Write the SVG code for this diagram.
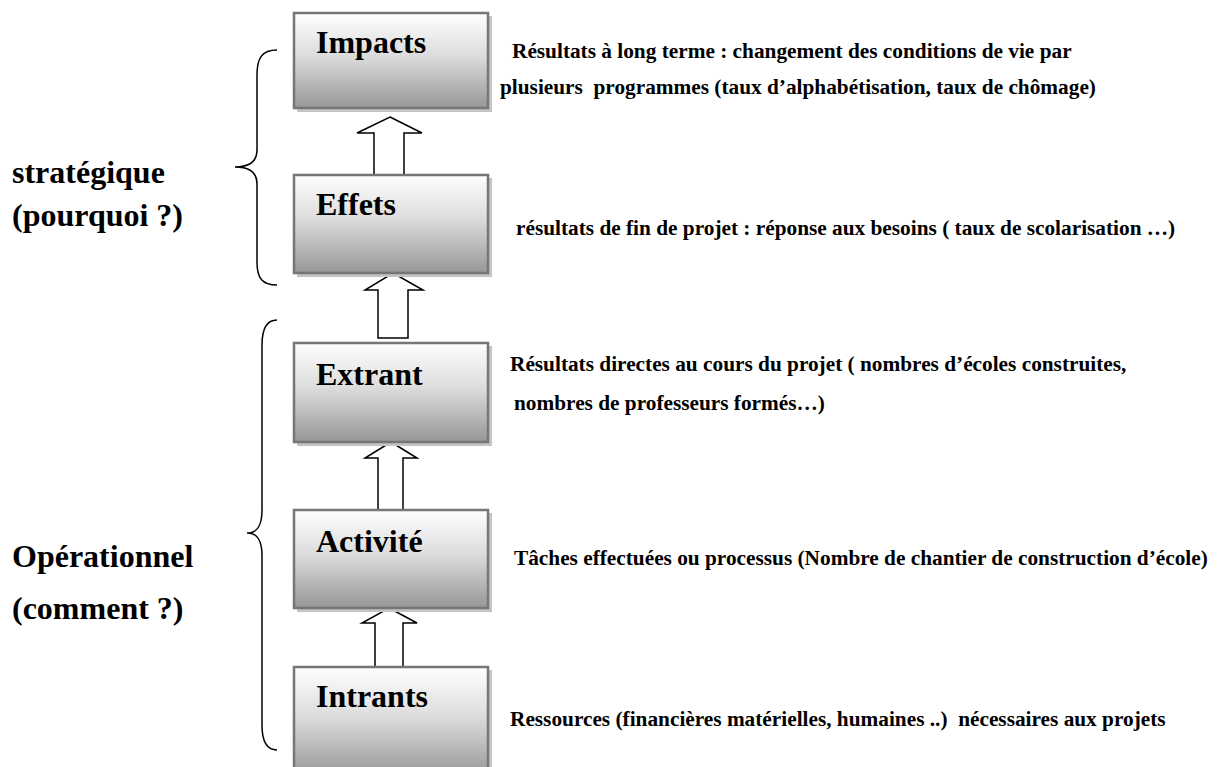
<svg xmlns="http://www.w3.org/2000/svg" width="1219" height="767" viewBox="0 0 1219 767">
<defs>
<linearGradient id="g" x1="0" y1="0" x2="0" y2="1">
<stop offset="0" stop-color="#ffffff"/>
<stop offset="0.45" stop-color="#dcdcdc"/>
<stop offset="1" stop-color="#979797"/>
</linearGradient>
</defs>
<style>
.box{fill:url(#g);stroke:#767676;stroke-width:2.5}
.sh{fill:#c4c4c4}
.lbl{font-family:"Liberation Serif","Times New Roman",serif;font-weight:bold;font-size:32px;fill:#000}
.desc{font-family:"Liberation Serif","Times New Roman",serif;font-weight:bold;font-size:21.3px;fill:#000}
.arr{fill:#fff;stroke:#000;stroke-width:1.5;stroke-linejoin:miter}
.br{fill:none;stroke:#000;stroke-width:1.5}
</style>
<rect width="1219" height="767" fill="#fff"/>
<g id="braces">
<path class="br" d="M277,50 C262,50 257,58 257,75 L257,150 C257,162 248,167 235,167 C248,167 257,172 257,184 L257,262 C257,278 262,285 277,285"/>
<path class="br" d="M277,320 C266,320 262,330 262,345 L262,510 C262,525 258,533 247,533 C258,533 262,541 262,556 L262,725 C262,740 266,750 277,750"/>
</g>
<g id="group-labels">
<text class="lbl" x="12" y="183">stratégique</text>
<text class="lbl" x="12" y="226">(pourquoi ?)</text>
<text class="lbl" x="12" y="567">Opérationnel</text>
<text class="lbl" x="12" y="619">(comment ?)</text>
</g>
<g id="connectors">
<path class="arr" d="M390,117 L422,133 L404,133 L404,175 L374,175 L374,133 L357,133 Z"/>
<path class="arr" d="M393,273 L423,290 L408,290 L408,338 L378,338 L378,290 L365,290 Z"/>
<path class="arr" d="M391,442 L417,458 L403,458 L403,510 L378,510 L378,458 L365,458 Z"/>
<path class="arr" d="M389,608 L417,623 L403,623 L403,667 L375,667 L375,623 L362,623 Z"/>
</g>
<g id="impacts">
<rect class="sh" x="297" y="16" width="195" height="96"/>
<rect class="box" x="294" y="13" width="194" height="95"/>
<text class="lbl" x="316" y="53">Impacts</text>
</g>
<g id="effets">
<rect class="sh" x="297" y="178" width="195" height="99"/>
<rect class="box" x="294" y="175" width="194" height="98"/>
<text class="lbl" x="316" y="215">Effets</text>
</g>
<g id="extrant">
<rect class="sh" x="297" y="346" width="195" height="100"/>
<rect class="box" x="294" y="343" width="194" height="99"/>
<text class="lbl" x="316" y="385">Extrant</text>
</g>
<g id="activite">
<rect class="sh" x="297" y="513" width="195" height="99"/>
<rect class="box" x="294" y="510" width="194" height="98"/>
<text class="lbl" x="316" y="552">Activité</text>
</g>
<g id="intrants">
<rect class="sh" x="297" y="670" width="195" height="100"/>
<rect class="box" x="294" y="667" width="194" height="110"/>
<text class="lbl" x="316" y="707">Intrants</text>
</g>
<g id="descriptions">
<text class="desc" x="512" y="58">Résultats à long terme : changement des conditions de vie par</text>
<text class="desc" x="500" y="94" xml:space="preserve">plusieurs  programmes (taux d’alphabétisation, taux de chômage)</text>
<text class="desc" x="516" y="235">résultats de fin de projet : réponse aux besoins ( taux de scolarisation …)</text>
<text class="desc" x="510" y="371">Résultats directes au cours du projet ( nombres d’écoles construites,</text>
<text class="desc" x="514" y="410">nombres de professeurs formés…)</text>
<text class="desc" x="514" y="565">Tâches effectuées ou processus (Nombre de chantier de construction d’école)</text>
<text class="desc" x="510" y="726" xml:space="preserve">Ressources (financières matérielles, humaines ..)  nécessaires aux projets</text>
</g>
</svg>
